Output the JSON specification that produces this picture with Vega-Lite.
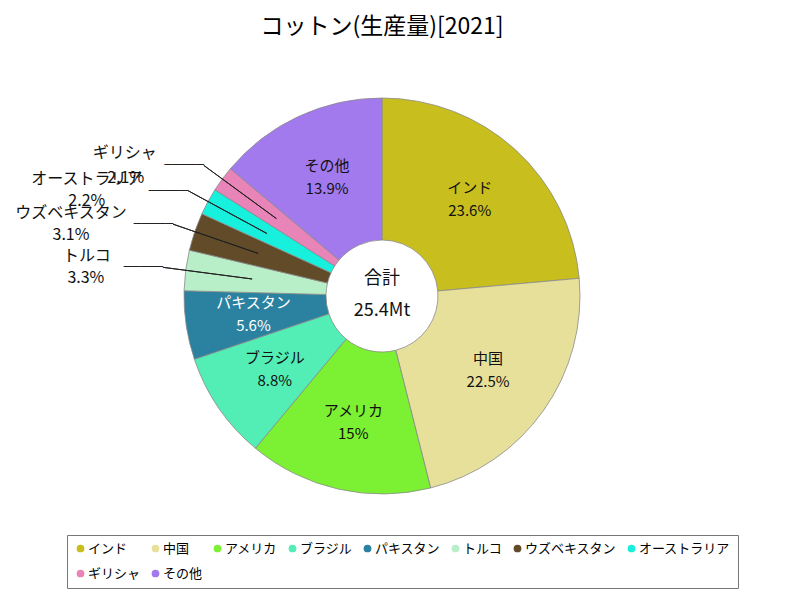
{
  "$schema": "https://vega.github.io/schema/vega-lite/v6.json",
  "width": 764,
  "height": 492,
  "autosize": {"type": "none"},
  "padding": {"left": 0, "top": 50, "right": 36, "bottom": 58},
  "background": "white",
  "title": {"text": "コットン(生産量)[2021]", "fontSize": 23, "font": "Noto Sans CJK JP", "fontWeight": "normal", "color": "#000000", "offset": 11},
  "config": {"view": {"stroke": null}, "font": "Noto Sans CJK JP", "legend": {"gridAlign": "none"}},
  "data": {"values": [
    {"name": "インド", "share": 0.236},
    {"name": "中国", "share": 0.225},
    {"name": "アメリカ", "share": 0.15},
    {"name": "ブラジル", "share": 0.088},
    {"name": "パキスタン", "share": 0.056},
    {"name": "トルコ", "share": 0.033},
    {"name": "ウズベキスタン", "share": 0.031},
    {"name": "オーストラリア", "share": 0.022},
    {"name": "ギリシャ", "share": 0.021},
    {"name": "その他", "share": 0.139}
  ]},
  "transform": [{"stack": "share", "groupby": [], "as": ["v0", "v1"]}],
  "layer": [
    {
      "mark": {"type": "arc", "outerRadius": 198, "innerRadius": 56, "stroke": "#8a8a8a", "strokeWidth": 0.8},
      "encoding": {
        "theta": {"field": "v0", "type": "quantitative", "scale": {"domain": [0, 1.001]}},
        "theta2": {"field": "v1"},
        "color": {
          "field": "name", "type": "nominal",
          "scale": {
            "domain": ["インド", "中国", "アメリカ", "ブラジル", "パキスタン", "トルコ", "ウズベキスタン", "オーストラリア", "ギリシャ", "その他"],
            "range": ["#c8be1e", "#e6e09b", "#7cf032", "#52eeb6", "#2b82a0", "#b8eec8", "#614b29", "#18f0de", "#e884b8", "#a27aee"]
          },
          "legend": {
            "title": null, "orient": "none", "legendX": 67, "legendY": 485,
            "direction": "horizontal", "columns": 8, "gridAlign": "none",
            "symbolType": "circle", "symbolSize": 60, "symbolStrokeWidth": 0,
            "labelFontSize": 13, "labelFont": "Noto Sans CJK JP", "labelColor": "#000000",
            "strokeColor": "#777777", "fillColor": "#ffffff",
            "padding": 7, "columnPadding": 8, "rowPadding": 11, "labelOffset": 1
          }
        }
      }
    },
    {
      "transform": [
        {"filter": {"field": "name", "oneOf": ["トルコ", "ウズベキスタン", "オーストラリア", "ギリシャ"]}},
        {"fold": ["v0", "v1"], "as": ["edge", "ang"]},
        {"aggregate": [{"op": "mean", "field": "ang", "as": "mid"}], "groupby": ["name", "share"]}
      ],
      "layer": [
        {
          "mark": {"type": "arc", "radius": 221, "radius2": 131, "fill": "transparent", "stroke": "#222222", "strokeWidth": 1},
          "encoding": {"theta": {"field": "mid", "type": "quantitative", "scale": {"domain": [0, 1.001]}}, "theta2": {"field": "mid"}}
        },
        {
          "mark": {"type": "text", "radius": 221, "text": "─────", "font": "DejaVu Sans Mono", "fontSize": 13, "align": "right", "baseline": "middle", "color": "#222222"},
          "encoding": {"theta": {"field": "mid", "type": "quantitative", "scale": {"domain": [0, 1.001]}}}
        }
      ]
    },
    {
      "transform": [
        {"filter": {"field": "name", "oneOf": ["インド", "中国", "アメリカ", "ブラジル", "パキスタン", "その他"]}},
        {"fold": ["v0", "v1"], "as": ["edge", "ang"]},
        {"aggregate": [{"op": "mean", "field": "ang", "as": "mid"}], "groupby": ["name", "share"]}
      ],
      "encoding": {
        "theta": {"field": "mid", "type": "quantitative", "scale": {"domain": [0, 1.001]}},
        "color": {"condition": {"test": "datum.name === 'パキスタン'", "value": "#ffffff"}, "value": "#111111"}
      },
      "layer": [
        {"mark": {"type": "text", "radius": 130, "dy": -12, "fontSize": 15, "align": "center", "baseline": "middle"},
         "encoding": {"text": {"field": "name"}}},
        {"mark": {"type": "text", "radius": 130, "dy": 11, "fontSize": 15, "align": "center", "baseline": "middle"},
         "encoding": {"text": {"field": "share", "format": ".1~%"}}}
      ]
    },
    {
      "transform": [
        {"filter": {"field": "name", "equal": "トルコ"}},
        {"fold": ["v0", "v1"], "as": ["edge", "ang"]},
        {"aggregate": [{"op": "mean", "field": "ang", "as": "mid"}], "groupby": ["name", "share"]}
      ],
      "encoding": {"theta": {"field": "mid", "type": "quantitative", "scale": {"domain": [0, 1.001]}}},
      "layer": [
        {"mark": {"type": "text", "radius": 221, "dx": -76, "dy": -11, "fontSize": 16, "align": "center", "baseline": "middle", "color": "#111111"},
         "encoding": {"text": {"field": "name"}}},
        {"mark": {"type": "text", "radius": 221, "dx": -77, "dy": 11, "fontSize": 16, "align": "center", "baseline": "middle", "color": "#111111"},
         "encoding": {"text": {"field": "share", "format": ".1~%"}}}
      ]
    },
    {
      "transform": [
        {"filter": {"field": "name", "equal": "ウズベキスタン"}},
        {"fold": ["v0", "v1"], "as": ["edge", "ang"]},
        {"aggregate": [{"op": "mean", "field": "ang", "as": "mid"}], "groupby": ["name", "share"]}
      ],
      "encoding": {"theta": {"field": "mid", "type": "quantitative", "scale": {"domain": [0, 1.001]}}},
      "layer": [
        {"mark": {"type": "text", "radius": 221, "dx": -102, "dy": -11, "fontSize": 16, "align": "center", "baseline": "middle", "color": "#111111"},
         "encoding": {"text": {"field": "name"}}},
        {"mark": {"type": "text", "radius": 221, "dx": -102, "dy": 11, "fontSize": 16, "align": "center", "baseline": "middle", "color": "#111111"},
         "encoding": {"text": {"field": "share", "format": ".1~%"}}}
      ]
    },
    {
      "transform": [
        {"filter": {"field": "name", "equal": "オーストラリア"}},
        {"fold": ["v0", "v1"], "as": ["edge", "ang"]},
        {"aggregate": [{"op": "mean", "field": "ang", "as": "mid"}], "groupby": ["name", "share"]}
      ],
      "encoding": {"theta": {"field": "mid", "type": "quantitative", "scale": {"domain": [0, 1.001]}}},
      "layer": [
        {"mark": {"type": "text", "radius": 221, "dx": -101, "dy": -12, "fontSize": 16, "align": "center", "baseline": "middle", "color": "#111111"},
         "encoding": {"text": {"field": "name"}}},
        {"mark": {"type": "text", "radius": 221, "dx": -101, "dy": 10, "fontSize": 16, "align": "center", "baseline": "middle", "color": "#111111"},
         "encoding": {"text": {"field": "share", "format": ".1~%"}}}
      ]
    },
    {
      "transform": [
        {"filter": {"field": "name", "equal": "ギリシャ"}},
        {"fold": ["v0", "v1"], "as": ["edge", "ang"]},
        {"aggregate": [{"op": "mean", "field": "ang", "as": "mid"}], "groupby": ["name", "share"]}
      ],
      "encoding": {"theta": {"field": "mid", "type": "quantitative", "scale": {"domain": [0, 1.001]}}},
      "layer": [
        {"mark": {"type": "text", "radius": 221, "dx": -79, "dy": -12, "fontSize": 16, "align": "center", "baseline": "middle", "color": "#111111"},
         "encoding": {"text": {"field": "name"}}},
        {"mark": {"type": "text", "radius": 221, "dx": -78, "dy": 13, "fontSize": 16, "align": "center", "baseline": "middle", "color": "#111111"},
         "encoding": {"text": {"field": "share", "format": ".1~%"}}}
      ]
    },
    {
      "data": {"values": [{"k": "合計", "v": "25.4Mt"}]},
      "layer": [
        {"mark": {"type": "text", "dy": -17, "fontSize": 18, "align": "center", "baseline": "middle", "color": "#111111"},
         "encoding": {"text": {"field": "k"}}},
        {"mark": {"type": "text", "dy": 15, "fontSize": 18, "align": "center", "baseline": "middle", "color": "#111111"},
         "encoding": {"text": {"field": "v"}}}
      ]
    }
  ]
}
